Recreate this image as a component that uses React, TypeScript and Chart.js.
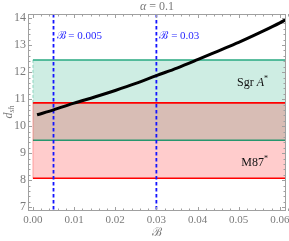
import React, { useEffect, useRef } from "react";
import { Chart, registerables } from "chart.js";
Chart.register(...registerables);

const bValues = [0.001, 0.005, 0.01, 0.015, 0.02, 0.025, 0.03, 0.035, 0.04, 0.045, 0.05, 0.055, 0.06, 0.0615];
const dValues = [10.42, 10.6, 10.85, 11.08, 11.32, 11.58, 11.87, 12.15, 12.46, 12.78, 13.1, 13.45, 13.82, 13.95];
const xTickValues = [0, 0.01, 0.02, 0.03, 0.04, 0.05, 0.06];
const yTickValues = [7, 8, 9, 10, 11, 12, 13, 14];
const xRange = [-0.0012, 0.0615];
const yRange = [6.86, 14.15];
const sgrBand = [9.48, 12.45];
const m87Band = [8.07, 10.86];
const markerValues = [0.005, 0.03];
const markerLabels = ["ℬ = 0.005", "ℬ = 0.03"];
const titleText = ["α", " = 0.1"];

const SERIF = "'Liberation Serif', 'DejaVu Serif', serif";
const GRAY = "#7a7a7a";

const decor = {
  id: "decor",
  beforeDatasetsDraw(chart: any) {
    const { ctx, chartArea: a, scales } = chart;
    const x = scales.x, y = scales.y;
    ctx.save();
    ctx.beginPath();
    ctx.rect(a.left, a.top, a.right - a.left, a.bottom - a.top);
    ctx.clip();
    const x0 = x.getPixelForValue(0);
    const band = (b: number[], fill: string) => {
      const t = y.getPixelForValue(b[1]);
      const bt = y.getPixelForValue(b[0]);
      ctx.fillStyle = fill;
      ctx.fillRect(x0, t, a.right - x0, bt - t);
    };
    band(sgrBand, "rgba(60,185,145,0.25)");
    band(m87Band, "rgba(255,0,0,0.2)");
    const hline = (v: number, c: string) => {
      const p = y.getPixelForValue(v);
      ctx.strokeStyle = c;
      ctx.lineWidth = 1.6;
      ctx.beginPath();
      ctx.moveTo(x0, p);
      ctx.lineTo(a.right, p);
      ctx.stroke();
    };
    hline(sgrBand[0], "rgb(40,150,110)");
    hline(sgrBand[1], "rgb(40,170,130)");
    hline(m87Band[0], "rgb(255,0,0)");
    hline(m87Band[1], "rgb(255,0,0)");
    ctx.lineWidth = 1;
    ctx.setLineDash([3, 2]);
    ctx.strokeStyle = "rgba(60,185,145,0.5)";
    ctx.beginPath();
    ctx.moveTo(x0, y.getPixelForValue(sgrBand[1]));
    ctx.lineTo(x0, y.getPixelForValue(m87Band[1]));
    ctx.stroke();
    ctx.setLineDash([]);
    ctx.strokeStyle = "rgba(255,0,0,0.3)";
    ctx.beginPath();
    ctx.moveTo(x0, y.getPixelForValue(m87Band[1]));
    ctx.lineTo(x0, y.getPixelForValue(m87Band[0]));
    ctx.stroke();
    ctx.strokeStyle = "rgb(20,20,255)";
    ctx.lineWidth = 1.8;
    ctx.setLineDash([3.5, 2.5]);
    markerValues.forEach((v) => {
      const p = x.getPixelForValue(v);
      ctx.beginPath();
      ctx.moveTo(p, a.top);
      ctx.lineTo(p, a.bottom);
      ctx.stroke();
    });
    ctx.setLineDash([]);
    ctx.restore();
  },
  afterDraw(chart: any) {
    const { ctx, chartArea: a, scales } = chart;
    const x = scales.x, y = scales.y;
    ctx.save();
    ctx.strokeStyle = "#a0a0a0";
    ctx.lineWidth = 1;
    ctx.strokeRect(a.left + 0.5, a.top + 0.5, a.right - a.left - 1, a.bottom - a.top - 1);
    ctx.beginPath();
    for (let i = 0; i <= 31; i++) {
      const v = i * 0.002;
      const p = Math.round(x.getPixelForValue(v)) + 0.5;
      const len = i % 5 === 0 ? 4 : 2.5;
      ctx.moveTo(p, a.bottom);
      ctx.lineTo(p, a.bottom - len);
      ctx.moveTo(p, a.top);
      ctx.lineTo(p, a.top + len);
    }
    for (let i = 0; i <= 40; i++) {
      const v = 7 + i * 0.2;
      if (v > yRange[1]) break;
      const p = Math.round(y.getPixelForValue(v)) + 0.5;
      const len = i % 5 === 0 ? 4 : 2.5;
      ctx.moveTo(a.left, p);
      ctx.lineTo(a.left + len, p);
      ctx.moveTo(a.right, p);
      ctx.lineTo(a.right - len, p);
    }
    ctx.stroke();
    // tick labels
    ctx.fillStyle = GRAY;
    ctx.textBaseline = "middle";
    ctx.font = `11px ${SERIF}`;
    ctx.textAlign = "center";
    xTickValues.forEach((v) => {
      ctx.fillText(v.toFixed(2), x.getPixelForValue(v), a.bottom + 9);
    });
    ctx.font = `12px ${SERIF}`;
    ctx.textAlign = "right";
    yTickValues.forEach((v) => {
      ctx.fillText(String(v), a.left - 2, y.getPixelForValue(v));
    });
    // marker labels
    ctx.fillStyle = "rgb(40,40,255)";
    ctx.font = `11px ${SERIF}`;
    ctx.textAlign = "left";
    markerValues.forEach((v, i) => {
      ctx.fillText(markerLabels[i], x.getPixelForValue(v) + 3, 36);
    });
    // title
    const cx = (a.left + a.right) / 2;
    ctx.fillStyle = GRAY;
    ctx.font = `italic 12px ${SERIF}`;
    const w1 = ctx.measureText(titleText[0]).width;
    ctx.font = `12px ${SERIF}`;
    const w2 = ctx.measureText(titleText[1]).width;
    const sx = cx - (w1 + w2) / 2;
    ctx.font = `italic 12px ${SERIF}`;
    ctx.fillText(titleText[0], sx, 7);
    ctx.font = `12px ${SERIF}`;
    ctx.fillText(titleText[1], sx + w1, 7);
    ctx.textAlign = "center";
    ctx.font = `12px ${SERIF}`;
    ctx.fillText("ℬ", cx, 233);
    ctx.save();
    ctx.translate(9, 112);
    ctx.rotate(-Math.PI / 2);
    ctx.textAlign = "left";
    ctx.font = `italic 12px ${SERIF}`;
    const wd = ctx.measureText("d").width;
    ctx.font = `italic 8px ${SERIF}`;
    const ws = ctx.measureText("sh").width;
    const st = -(wd + ws) / 2;
    ctx.font = `italic 12px ${SERIF}`;
    ctx.fillText("d", st, 0);
    ctx.font = `italic 8px ${SERIF}`;
    ctx.fillText("sh", st + wd, 3);
    ctx.restore();
    ctx.fillStyle = "#111";
    ctx.textAlign = "left";
    const label = (parts: [string, string, number][], right: number, cy: number) => {
      let total = 0;
      parts.forEach(([t, f]) => { ctx.font = f; total += ctx.measureText(t).width; });
      let px = right - total;
      parts.forEach(([t, f, dy]) => {
        ctx.font = f;
        ctx.fillText(t, px, cy + dy);
        px += ctx.measureText(t).width;
      });
    };
    label([["Sgr ", `12px ${SERIF}`, 0], ["A", `italic 12px ${SERIF}`, 0], ["*", `8px ${SERIF}`, -4]], 268, 83);
    label([["M87", `12px ${SERIF}`, 0], ["*", `8px ${SERIF}`, -4]], 268, 163);
    ctx.restore();
  },
};

export default function App() {
  const ref = useRef<HTMLCanvasElement | null>(null);
  useEffect(() => {
    const canvas = ref.current;
    if (!canvas) return;
    const chart = new Chart(canvas, {
      type: "line",
      data: {
        datasets: [
          {
            data: bValues.map((b, i) => ({ x: b, y: dValues[i] })),
            borderColor: "#000",
            borderWidth: 3,
            pointRadius: 0,
            cubicInterpolationMode: "monotone",
            fill: false,
          },
        ],
      },
      options: {
        animation: false,
        responsive: false,
        events: [],
        layout: { padding: { top: 14, right: 3, left: 28, bottom: 30 } },
        plugins: { legend: { display: false }, tooltip: { enabled: false }, title: { display: false } },
        scales: {
          x: { type: "linear", display: false, min: xRange[0], max: xRange[1] },
          y: { type: "linear", display: false, min: yRange[0], max: yRange[1] },
        },
      },
      plugins: [decor],
    } as any);
    return () => chart.destroy();
  }, []);
  return (
    <canvas
      ref={ref}
      width={289}
      height={241}
      style={{ position: "absolute", left: 0, top: 0, width: 289, height: 241, display: "block" }}
    />
  );
}
